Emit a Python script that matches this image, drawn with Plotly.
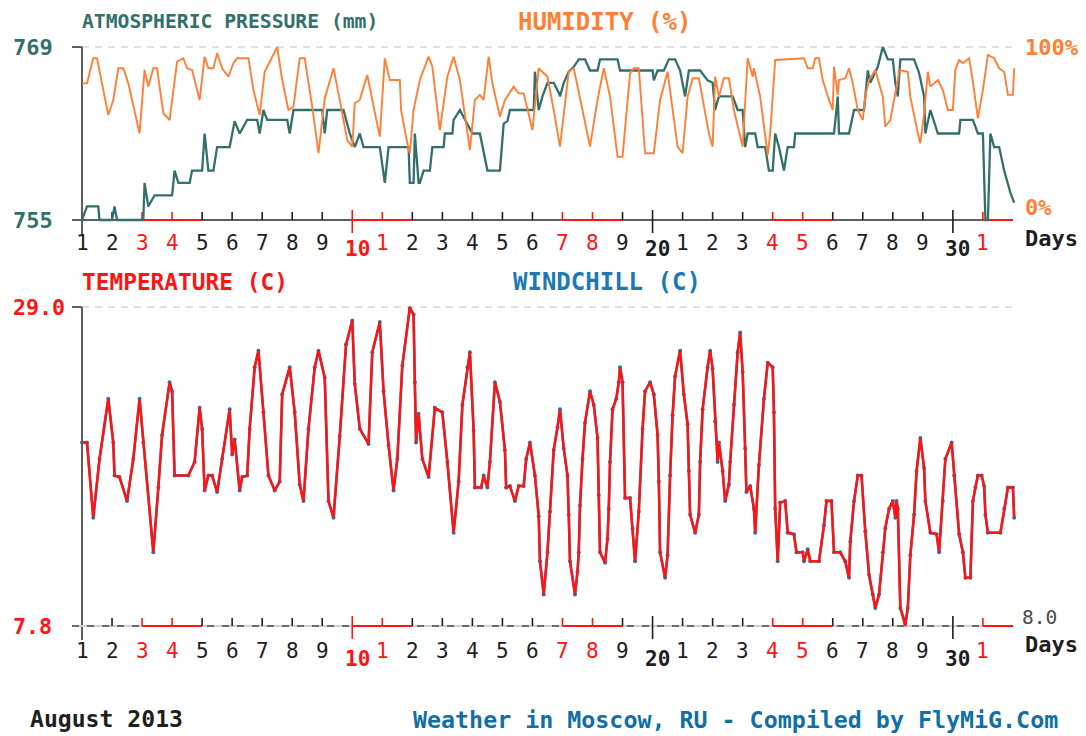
import pandas as pd
import plotly.graph_objects as go

# ---------------------------------------------------------------------------
# Moscow weather, August 2013. Times are hours since 2013-08-01 00:00.
# ---------------------------------------------------------------------------
MONTH_START = "2013-08-01"
DAYS = list(range(1, 32))

P_HOURS = [
    0, 4, 13, 14, 24, 26, 28, 49, 50, 53,
    58, 72, 74, 77, 86, 88, 96, 98, 101, 105,
    108, 118, 122, 126, 132, 140, 142, 145, 148, 164,
    166, 169, 192, 194, 196, 209, 214, 218, 222, 225,
    238, 242, 245, 261, 262, 265, 266, 269, 270, 273,
    278, 280, 289, 290, 296, 297, 302, 306, 312, 318,
    324, 334, 337, 340, 342, 361, 362, 365, 368, 372,
    377, 381, 382, 385, 389, 393, 397, 402, 406, 412,
    414, 428, 430, 456, 457, 460, 465, 469, 474, 478,
    482, 485, 494, 500, 504, 506, 509, 520, 524, 528,
    530, 532, 538, 540, 546, 549, 552, 554, 557, 561,
    564, 569, 570, 601, 604, 605, 613, 617, 625, 628,
    630, 636, 640, 644, 648, 650, 652, 654, 665, 669,
    673, 674, 678, 684, 701, 702, 712, 716, 720, 722,
    724, 726, 729, 733, 737, 742, 745,
]
PRESSURE_MM = [
    755.0, 756.1, 756.1, 755.0, 755.0, 756.1, 755.0, 755.0, 758.0, 756.1,
    757.0, 757.0, 759.0, 758.0, 758.0, 759.0, 759.0, 762.0, 759.0, 759.0,
    760.9, 760.9, 763.0, 762.0, 763.1, 763.1, 762.0, 763.9, 763.1, 763.1,
    762.0, 763.9, 763.9, 762.0, 763.9, 763.9, 762.0, 760.9, 762.0, 760.9,
    760.9, 758.0, 760.9, 760.9, 758.0, 758.0, 762.0, 758.0, 758.0, 759.0,
    759.0, 760.9, 760.9, 762.0, 762.0, 763.1, 763.9, 763.1, 762.0, 762.0,
    759.0, 759.0, 762.8, 763.0, 763.9, 763.9, 767.0, 763.9, 765.0, 766.1,
    766.1, 765.3, 765.0, 766.1, 767.0, 767.4, 768.0, 768.0, 767.1, 767.1,
    768.0, 768.0, 767.1, 767.1, 766.3, 767.1, 767.1, 768.0, 768.0, 767.1,
    765.0, 767.1, 767.1, 766.3, 766.1, 763.9, 765.0, 765.0, 763.9, 763.9,
    760.9, 762.0, 762.0, 760.9, 760.9, 759.0, 759.0, 762.0, 760.9, 759.0,
    760.9, 760.9, 762.0, 762.0, 765.0, 762.0, 762.0, 763.9, 763.9, 767.1,
    766.1, 767.4, 769.0, 768.0, 768.0, 766.1, 765.0, 768.0, 768.0, 766.9,
    765.0, 762.0, 763.9, 762.0, 762.0, 763.1, 763.1, 762.0, 762.0, 755.0,
    755.0, 762.0, 760.9, 760.9, 759.0, 757.2, 756.4,
]

H_HOURS = [
    0, 4, 9, 12, 16, 21, 25, 29, 33, 37,
    46, 50, 53, 57, 60, 65, 70, 76, 81, 84,
    88, 94, 98, 101, 105, 108, 112, 117, 121, 124,
    133, 137, 142, 146, 156, 160, 165, 169, 174, 178,
    184, 189, 194, 201, 206, 212, 216, 218, 222, 228,
    232, 238, 242, 246, 254, 255, 260, 262, 265, 270,
    277, 280, 286, 292, 297, 302, 310, 314, 318, 321,
    325, 328, 334, 338, 345, 349, 353, 360, 365, 372,
    377, 382, 389, 393, 400, 406, 412, 417, 422, 428,
    432, 438, 441, 445, 450, 457, 462, 468, 476, 480,
    484, 488, 493, 501, 504, 506, 509, 513, 517, 521,
    528, 532, 536, 537, 542, 548, 550, 554, 577, 580,
    584, 586, 589, 592, 597, 600, 601, 604, 605, 610,
    613, 616, 620, 624, 626, 629, 634, 640, 642, 646,
    652, 653, 660, 662, 668, 670, 673, 676, 678, 684,
    688, 692, 696, 698, 701, 704, 709, 712, 716, 720,
    724, 729, 733, 737, 740, 744, 745,
]
HUMIDITY_PCT = [
    79.0, 79.0, 93.5, 93.5, 79.0, 60.7, 69.4, 87.7, 87.7, 79.0,
    50.1, 86.7, 77.1, 87.7, 87.7, 61.7, 57.8, 91.5, 93.5, 87.7,
    86.7, 69.4, 94.4, 87.7, 87.7, 96.4, 87.7, 82.8, 90.6, 93.5,
    93.5, 75.1, 60.7, 85.7, 100.0, 80.9, 63.6, 65.5, 93.5, 93.5,
    65.5, 38.6, 70.3, 87.7, 69.4, 46.2, 42.4, 67.5, 69.4, 83.8,
    69.4, 48.2, 93.5, 80.9, 80.9, 63.6, 44.3, 38.6, 63.6, 80.9,
    94.4, 88.6, 52.0, 82.8, 94.4, 80.9, 40.5, 69.4, 72.3, 69.4,
    94.4, 79.0, 59.7, 69.4, 77.1, 73.2, 73.2, 52.0, 87.7, 82.8,
    63.6, 42.4, 85.7, 87.7, 63.6, 42.4, 69.4, 87.7, 71.3, 36.6,
    36.6, 84.8, 87.7, 87.7, 38.6, 38.6, 69.4, 85.7, 42.4, 38.6,
    71.3, 81.9, 81.9, 50.1, 42.4, 82.8, 71.3, 81.9, 81.9, 63.6,
    42.4, 93.5, 82.8, 87.7, 71.3, 37.6, 50.1, 92.5, 93.5, 87.7,
    87.7, 93.5, 93.5, 80.9, 69.4, 63.6, 88.6, 72.3, 80.9, 81.9,
    87.7, 79.0, 63.6, 57.8, 71.3, 80.9, 86.7, 71.3, 53.9, 57.8,
    80.9, 86.7, 85.7, 71.3, 50.1, 44.3, 61.7, 85.7, 77.1, 80.9,
    75.1, 63.6, 63.6, 86.7, 92.5, 90.6, 93.5, 79.9, 58.8, 75.1,
    95.4, 93.5, 87.7, 85.7, 72.3, 72.3, 87.7,
]

T_HOURS = [
    0, 4, 9, 14, 21, 25, 26, 30, 36, 41,
    46, 49, 57, 61, 64, 70, 72, 74, 85, 90,
    94, 96, 98, 101, 104, 108, 112, 118, 120, 122,
    126, 128, 132, 134, 138, 141, 145, 149, 154, 158,
    160, 166, 170, 174, 177, 181, 186, 189, 194, 197,
    201, 206, 211, 216, 218, 222, 229, 232, 238, 241,
    245, 249, 252, 256, 262, 265, 266, 267, 269, 272,
    277, 282, 288, 292, 297, 301, 304, 308, 310, 313,
    314, 319, 321, 324, 326, 330, 334, 338, 339, 342,
    346, 349, 353, 355, 358, 362, 365, 366, 369, 372,
    374, 377, 380, 382, 385, 388, 389, 390, 394, 396,
    397, 398, 400, 402, 406, 409, 412, 413, 414, 418,
    420, 421, 422, 424, 427, 429, 430, 432, 434, 438,
    440, 442, 445, 448, 450, 454, 457, 460, 461, 462,
    466, 468, 470, 472, 474, 478, 481, 484, 485, 486,
    490, 493, 494, 496, 500, 502, 504, 506, 508, 509,
    512, 514, 517, 518, 521, 524, 526, 528, 530, 531,
    534, 537, 538, 541, 545, 548, 552, 553, 554, 556,
    558, 562, 564, 569, 571, 576, 577, 580, 582, 589,
    593, 595, 599, 601, 606, 610, 613, 614, 617, 620,
    623, 626, 629, 632, 634, 637, 640, 642, 645, 648,
    650, 651, 652, 654, 658, 660, 662, 665, 667, 670,
    673, 674, 678, 683, 685, 688, 690, 695, 697, 701,
    704, 706, 710, 712, 714, 716, 719, 721, 722, 724,
    734, 737, 740, 744, 745,
]
TEMPERATURE_C = [
    20.0, 20.0, 15.0, 18.9, 22.9, 20.0, 17.8, 17.7, 16.1, 18.9,
    22.9, 20.0, 12.7, 17.0, 20.5, 24.0, 23.4, 17.8, 17.8, 18.7,
    22.3, 20.9, 16.8, 17.8, 17.8, 16.7, 18.9, 22.2, 19.2, 20.2,
    16.8, 17.7, 17.8, 20.9, 25.0, 26.1, 22.0, 17.8, 16.8, 17.4,
    23.2, 25.0, 22.0, 17.2, 16.1, 20.9, 25.0, 26.1, 24.3, 16.1,
    15.0, 20.4, 26.5, 28.1, 23.9, 20.9, 19.9, 26.0, 28.0, 23.4,
    19.8, 16.8, 18.9, 25.1, 29.0, 28.5, 24.0, 20.0, 21.9, 18.9,
    17.7, 22.3, 22.0, 18.7, 14.0, 17.4, 22.5, 25.0, 26.0, 20.8,
    17.0, 17.0, 17.8, 17.0, 18.7, 24.0, 22.7, 19.5, 17.0, 17.1,
    16.1, 17.1, 17.1, 18.9, 20.0, 17.8, 15.1, 12.1, 9.9, 12.7,
    15.4, 19.5, 21.0, 22.2, 19.6, 17.8, 15.2, 12.1, 9.9, 11.4,
    12.7, 15.8, 18.9, 21.3, 23.4, 22.5, 20.3, 16.5, 12.7, 12.0,
    13.6, 15.6, 18.7, 22.2, 22.9, 24.0, 25.0, 24.0, 16.3, 16.3,
    14.3, 12.1, 15.4, 20.9, 23.4, 24.0, 23.2, 20.5, 17.4, 12.7,
    11.0, 12.5, 17.8, 21.8, 24.4, 26.1, 23.2, 21.2, 18.1, 15.2,
    14.0, 15.2, 18.7, 22.2, 25.0, 26.1, 24.9, 21.4, 18.7, 20.0,
    18.1, 16.1, 17.2, 18.7, 22.5, 26.0, 27.3, 24.7, 19.6, 16.7,
    17.1, 15.6, 14.0, 18.5, 22.9, 25.3, 25.0, 22.0, 15.6, 12.1,
    16.0, 16.1, 14.0, 13.9, 12.7, 12.7, 12.1, 12.9, 12.1, 12.1,
    14.5, 16.1, 16.1, 12.7, 12.7, 12.1, 11.0, 13.4, 16.1, 17.8,
    17.8, 14.1, 11.2, 9.9, 9.0, 9.9, 12.7, 14.3, 15.6, 16.1,
    15.0, 16.1, 15.6, 9.0, 7.8, 9.0, 12.5, 15.2, 18.1, 20.3,
    18.3, 16.1, 14.0, 13.9, 12.7, 16.1, 18.9, 20.0, 17.8, 13.9,
    12.7, 11.0, 11.0, 16.1, 17.0, 17.8, 17.8, 17.1, 15.2, 14.0,
    14.0, 15.6, 17.0, 17.0, 15.0,
]
WINDCHILL_C = [
    20.0, 20.0, 15.0, 18.9, 22.9, 20.0, 17.8, 17.7, 16.1, 18.9,
    22.9, 20.0, 12.7, 17.0, 20.5, 24.0, 23.4, 17.8, 17.8, 18.7,
    22.3, 20.9, 16.8, 17.8, 17.8, 16.7, 18.9, 22.2, 19.2, 20.2,
    16.8, 17.7, 17.8, 20.9, 25.0, 26.1, 22.0, 17.8, 16.8, 17.4,
    23.2, 25.0, 22.0, 17.2, 16.1, 20.9, 25.0, 26.1, 24.3, 16.1,
    15.0, 20.4, 26.5, 28.1, 23.9, 20.9, 19.9, 26.0, 28.0, 23.4,
    19.8, 16.8, 18.9, 25.1, 28.9, 28.5, 24.0, 20.0, 21.9, 18.9,
    17.7, 22.3, 22.0, 18.7, 14.0, 17.4, 22.5, 25.0, 26.0, 20.8,
    17.0, 17.0, 17.8, 17.0, 18.7, 24.0, 22.7, 19.5, 17.0, 17.1,
    16.1, 17.1, 17.1, 18.9, 20.0, 17.8, 15.1, 12.1, 9.9, 12.7,
    15.4, 19.5, 21.0, 22.2, 19.6, 17.8, 15.2, 12.1, 9.9, 11.4,
    12.7, 15.8, 18.9, 21.3, 23.4, 22.5, 20.3, 16.5, 12.7, 12.0,
    13.6, 15.6, 18.7, 22.2, 22.9, 24.0, 25.0, 24.0, 16.3, 16.3,
    14.3, 12.1, 15.4, 20.9, 23.4, 24.0, 23.2, 20.5, 17.4, 12.7,
    11.0, 12.5, 17.8, 21.8, 24.4, 26.1, 23.2, 21.2, 18.1, 15.2,
    14.0, 15.2, 18.7, 22.2, 25.0, 26.1, 24.9, 21.4, 18.7, 20.0,
    18.1, 16.1, 17.2, 18.7, 22.5, 26.0, 27.3, 24.7, 19.6, 16.7,
    17.1, 15.6, 14.0, 18.5, 22.9, 25.3, 25.0, 22.0, 15.6, 12.1,
    16.0, 16.1, 14.0, 13.9, 12.7, 12.7, 12.1, 12.9, 12.1, 12.1,
    14.5, 16.1, 16.1, 12.7, 12.7, 12.1, 11.0, 13.4, 16.1, 17.8,
    17.8, 14.1, 11.2, 9.9, 9.0, 9.9, 12.7, 14.3, 15.6, 16.1,
    15.0, 16.1, 15.6, 9.0, 8.0, 9.0, 12.5, 15.2, 18.1, 20.3,
    18.3, 16.1, 14.0, 13.9, 12.7, 16.1, 18.9, 20.0, 17.8, 13.9,
    12.7, 11.0, 11.0, 16.1, 17.0, 17.8, 17.8, 17.1, 15.2, 14.0,
    14.0, 15.6, 17.0, 17.0, 15.0,
]

# ---------------------------------------------------------------------------
# Geometry (pixels of the 1086 x 736 page)
# ---------------------------------------------------------------------------
W, H = 1086, 736
MONO = "DejaVu Sans Mono"

TEAL = "#33706c"
ORANGE = "#ff7f36"
RED = "#ff1414"
BLUE = "#1d79b4"
INK = "#1e1e1e"
AXIS = "#5e5e5e"
GRID = "#d6d6d6"
FOOT_BLUE = "#0f6fa6"


def fx(px):
    return px / W


def fy(py):
    return 1 - py / H


DAY1_PX, PX_PER_DAY = 82, 30.03
X_LEFT_PX, X_RIGHT_PX = 76, 1020
END_PX = DAY1_PX + len(DAYS) * PX_PER_DAY          # start of Sept 1
x_range = [1 + (X_LEFT_PX - DAY1_PX) / PX_PER_DAY,
           1 + (X_RIGHT_PX - DAY1_PX) / PX_PER_DAY]


def value_range(dom_top, dom_bot, v_hi, px_hi, v_lo, px_lo):
    """Axis range so that v_hi sits at px_hi and v_lo at px_lo."""
    k = (v_hi - v_lo) / (px_lo - px_hi)
    return [v_lo - (dom_bot - px_lo) * k, v_hi + (px_hi - dom_top) * k]


p_max, p_min = round(max(PRESSURE_MM)), round(min(PRESSURE_MM))
t_max, t_min = max(TEMPERATURE_C), min(TEMPERATURE_C)

TOP_DOM = (40, 227)
LOW_DOM = (300, 633)
TOP_HI_PX, TOP_LO_PX = 47, 220
LOW_HI_PX, LOW_LO_PX = 307, 626

p_range = value_range(*TOP_DOM, p_max, TOP_HI_PX, p_min, TOP_LO_PX)
h_range = value_range(*TOP_DOM, 100, TOP_HI_PX, 0, TOP_LO_PX)
t_range = value_range(*LOW_DOM, t_max, LOW_HI_PX, t_min, LOW_LO_PX)


def to_day(hours):
    return [1 + h / 24 for h in hours]


dates = pd.date_range(MONTH_START, periods=len(DAYS), freq="D")
is_weekend = {d: dt.weekday() >= 5 for d, dt in zip(DAYS, dates)}

fig = go.Figure()

fig.add_trace(go.Scatter(
    x=to_day(H_HOURS), y=HUMIDITY_PCT, xaxis="x", yaxis="y2", mode="lines",
    line=dict(color=ORANGE, width=1.9), name="Humidity", hoverinfo="skip"))
fig.add_trace(go.Scatter(
    x=to_day(P_HOURS), y=PRESSURE_MM, xaxis="x", yaxis="y", mode="lines",
    line=dict(color=TEAL, width=2.3), name="Pressure", hoverinfo="skip"))
fig.add_trace(go.Scatter(
    x=to_day(T_HOURS), y=WINDCHILL_C, xaxis="x2", yaxis="y3", mode="lines+markers",
    line=dict(color=BLUE, width=2.5), marker=dict(color=BLUE, size=4),
    name="Windchill", hoverinfo="skip"))
fig.add_trace(go.Scatter(
    x=to_day(T_HOURS), y=TEMPERATURE_C, xaxis="x2", yaxis="y3", mode="lines",
    line=dict(color=RED, width=2.5), name="Temperature", hoverinfo="skip"))

shapes = []
annotations = []


def seg(x0, x1, y0, y1, color, width, xref="paper", dash=None):
    shapes.append(dict(type="line", xref=xref, yref="paper", x0=x0, x1=x1,
                       y0=y0, y1=y1, layer="below",
                       line=dict(color=color, width=width, dash=dash)))


def text(s, x, y, color, size, xanchor="left", xref="paper", bold=False):
    annotations.append(dict(
        text=f"<b>{s}</b>" if bold else s, x=x, y=y, xref=xref, yref="paper",
        xanchor=xanchor, yanchor="middle", showarrow=False,
        font=dict(family=MONO, size=size, color=color)))


def time_axis(xref, top_px, axis_px, dashed, label_px, decade_px, days_px):
    # dashed reference line at the top value
    seg(fx(DAY1_PX), fx(END_PX), fy(top_px), fy(top_px), GRID, 1.6, dash="7px,6px")
    # vertical value axis with its top tick
    seg(fx(DAY1_PX), fx(DAY1_PX), fy(top_px), fy(axis_px + 14), AXIS, 2)
    seg(fx(DAY1_PX - 10), fx(DAY1_PX), fy(top_px), fy(top_px), AXIS, 2)
    # horizontal time axis
    if dashed:
        seg(fx(DAY1_PX - 10), fx(END_PX), fy(axis_px), fy(axis_px), "#cfcfcf", 2)
        seg(fx(DAY1_PX - 10), fx(END_PX), fy(axis_px), fy(axis_px), "#6a6a6a", 2,
            dash="7px,8px")
    else:
        seg(fx(DAY1_PX - 10), fx(END_PX), fy(axis_px), fy(axis_px), AXIS, 2)
    for d in DAYS:
        color = RED if is_weekend[d] else INK
        if is_weekend[d]:
            seg(d, d + 1, fy(axis_px), fy(axis_px), RED, 2, xref=xref)
        if d > 1:
            if d % 10 == 0:
                seg(d, d, fy(axis_px - 10), fy(axis_px + 13), color, 1.6, xref=xref)
            else:
                seg(d, d, fy(axis_px - 8), fy(axis_px), color, 1.6, xref=xref)
        if d % 10 == 0:
            text(str(d), d + 5 / PX_PER_DAY, fy(decade_px), color, 21,
                 xanchor="center", xref=xref, bold=True)
        else:
            text(str(d % 10), d, fy(label_px), color, 21, xanchor="center", xref=xref)
    text("Days", fx(1023), fy(days_px), INK, 22, bold=True)


time_axis("x", TOP_HI_PX, TOP_LO_PX, False, 243, 249, 238)
time_axis("x2", LOW_HI_PX, LOW_LO_PX, True, 651, 659, 644)

# panel titles
text("ATMOSPHERIC PRESSURE (mm)", fx(80), fy(22), TEAL, 19.7, bold=True)
text("HUMIDITY (%)", fx(516), fy(22), ORANGE, 24, bold=True)
text("TEMPERATURE (C)", fx(80), fy(282), RED, 22.8, bold=True)
text("WINDCHILL (C)", fx(511), fy(282), BLUE, 24, bold=True)

# value labels
text(f"{p_max:d}", fx(11), fy(TOP_HI_PX), TEAL, 22, bold=True)
text(f"{p_min:d}", fx(11), fy(TOP_LO_PX), TEAL, 22, bold=True)
text("100%", fx(1023), fy(48), ORANGE, 22, bold=True)
text("0%", fx(1023), fy(208), ORANGE, 22, bold=True)
text(f"{t_max:.1f}", fx(11), fy(LOW_HI_PX), RED, 21.6, bold=True)
text(f"{t_min:.1f}", fx(11), fy(LOW_LO_PX), RED, 21.6, bold=True)
text(f"{min(WINDCHILL_C):.1f}", fx(1020), fy(617), "#4a4a4a", 19.5)

# footer
text("August 2013", fx(28), fy(719), INK, 23.1, bold=True)
text("Weather in Moscow, RU - Compiled by FlyMiG.Com", fx(411), fy(719),
     FOOT_BLUE, 23.3, bold=True)

hidden = dict(visible=False, showgrid=False, zeroline=False, fixedrange=True)
fig.update_layout(
    width=W, height=H,
    margin=dict(l=0, r=0, t=0, b=0),
    paper_bgcolor="white", plot_bgcolor="white",
    showlegend=False,
    xaxis=dict(domain=[fx(X_LEFT_PX), fx(X_RIGHT_PX)], range=x_range,
               anchor="y", **hidden),
    yaxis=dict(domain=[fy(TOP_DOM[1]), fy(TOP_DOM[0])], range=p_range,
               anchor="x", **hidden),
    yaxis2=dict(range=h_range, overlaying="y", anchor="x", **hidden),
    xaxis2=dict(domain=[fx(X_LEFT_PX), fx(X_RIGHT_PX)], range=x_range,
                anchor="y3", **hidden),
    yaxis3=dict(domain=[fy(LOW_DOM[1]), fy(LOW_DOM[0])], range=t_range,
                anchor="x2", **hidden),
    shapes=shapes,
    annotations=annotations,
)

fig.write_html("out.html")
